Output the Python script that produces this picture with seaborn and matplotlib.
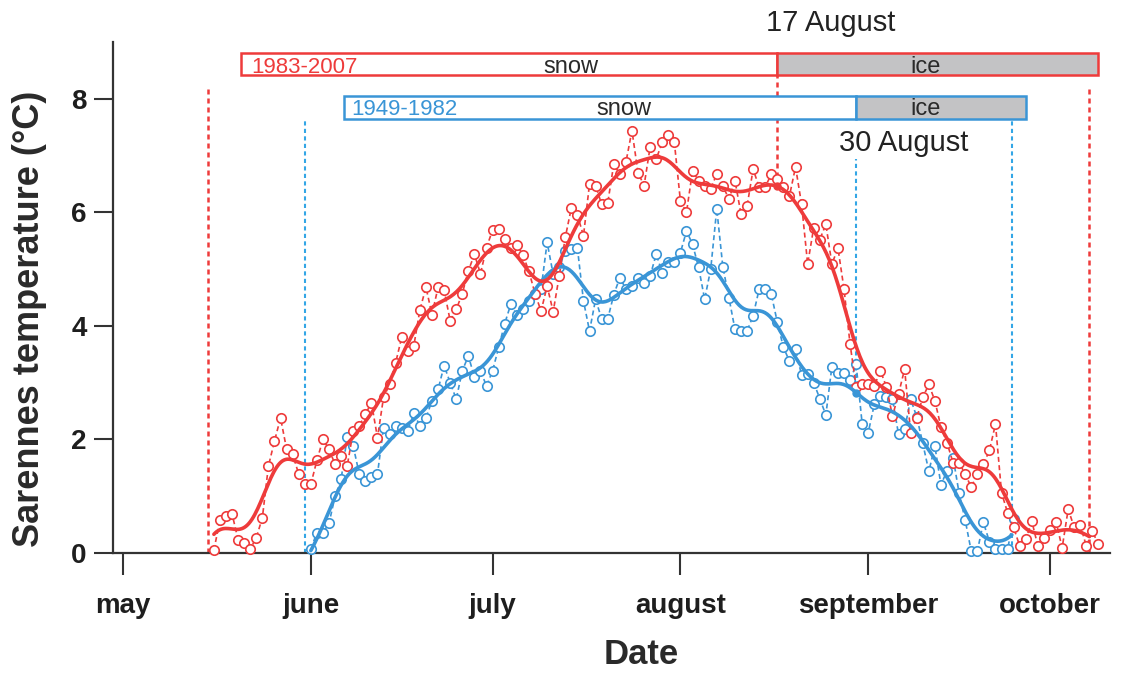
import numpy as np
import pandas as pd
import matplotlib
matplotlib.use("Agg")
import matplotlib.pyplot as plt
from matplotlib.patches import Rectangle
import seaborn as sns

# Daily lake water temperature (°C); day 0 = 1 May
recent_label = "1983-2007"
recent_start = 15
recent_temp = [
    0.05, 0.58, 0.65, 0.69, 0.23, 0.18, 0.07, 0.27, 0.62, 1.53,
    1.97, 2.38, 1.83, 1.74, 1.39, 1.21, 1.21, 1.63, 2.00, 1.83,
    1.56, 1.71, 1.53, 2.15, 2.24, 2.44, 2.65, 2.03, 2.74, 2.97,
    3.35, 3.80, 3.56, 3.65, 4.28, 4.68, 4.20, 4.68, 4.63, 4.09,
    4.29, 4.57, 4.97, 5.26, 4.92, 5.38, 5.69, 5.70, 5.53, 5.37,
    5.43, 5.25, 4.96, 4.57, 4.26, 4.70, 4.25, 4.88, 5.56, 6.08,
    5.95, 5.59, 6.50, 6.47, 6.14, 6.16, 6.85, 6.67, 6.88, 7.44,
    6.70, 6.47, 7.15, 6.94, 7.23, 7.37, 7.23, 6.20, 6.00, 6.73,
    6.56, 6.47, 6.41, 6.68, 6.47, 6.23, 6.56, 5.97, 6.11, 6.76,
    6.44, 6.45, 6.67, 6.58, 6.44, 6.29, 6.80, 6.14, 5.09, 5.73,
    5.52, 5.79, 5.09, 5.37, 4.65, 3.68, 2.93, 2.97, 2.97, 2.94,
    3.21, 2.93, 2.41, 2.80, 3.24, 2.12, 2.38, 2.74, 2.97, 2.68,
    2.22, 1.94, 1.59, 1.59, 1.39, 1.16, 1.39, 1.56, 1.81, 2.27,
    1.06, 0.71, 0.45, 0.12, 0.24, 0.56, 0.12, 0.26, 0.40, 0.55,
    0.09, 0.77, 0.45, 0.49, 0.12, 0.38, 0.15,
]

early_label = "1949-1982"
early_start = 31
early_temp = [
    0.07, 0.36, 0.36, 0.52, 1.00, 1.30, 2.04, 1.88, 1.39, 1.27,
    1.33, 1.39, 2.21, 2.09, 2.24, 2.21, 2.15, 2.46, 2.24, 2.38,
    2.68, 2.88, 3.30, 3.00, 2.71, 3.21, 3.47, 3.10, 3.21, 2.94,
    3.21, 3.62, 4.04, 4.38, 4.20, 4.29, 4.43, 4.56, 4.65, 5.47,
    4.91, 5.03, 5.32, 5.35, 5.37, 4.44, 3.91, 4.47, 4.12, 4.12,
    4.55, 4.85, 4.65, 4.70, 4.85, 4.75, 4.88, 5.26, 4.94, 5.12,
    5.12, 5.29, 5.67, 5.44, 5.03, 4.47, 5.00, 6.06, 5.04, 4.50,
    3.94, 3.91, 3.91, 4.18, 4.65, 4.65, 4.56, 4.06, 3.62, 3.38,
    3.59, 3.13, 3.16, 3.00, 2.72, 2.43, 3.28, 3.17, 3.17, 3.04,
    3.32, 2.27, 2.12, 2.62, 2.77, 2.74, 2.71, 2.09, 2.18, 2.71,
    2.40, 1.93, 1.44, 1.88, 1.20, 1.45, 1.68, 1.05, 0.58, 0.03,
    0.03, 0.54, 0.20, 0.07, 0.07, 0.07, 0.60,
]

month_days = [0, 31, 61, 92, 123, 153]
month_labels = ["may", "june", "july", "august", "september", "october"]
temp_ticks = [0, 2, 4, 6, 8]

# Cover periods: snow start, ice start, cover end (days since 1 May)
recent_cover = [19.5, 108, 161]
early_cover = [36.5, 121, 149]
recent_ice_label = "17 August"
early_ice_label = "30 August"
# Open-water limits of each period
recent_limits = [14, 159.5]
early_limits = [30, 146.7]

RED = "#EE3B3B"
BLUE = "#3A95D6"
BLUE_V = "#33A6E6"
ICE = "#C3C3C5"
INK = "#1E1E1E"

sns.set_theme(style="white")
plt.rcParams["font.family"] = ["Liberation Sans", "DejaVu Sans"]


def local_linear(days, temps, grid, bw=2.5):
    """Gaussian-weighted local linear smoother."""
    days = np.asarray(days, float)
    temps = np.asarray(temps, float)
    out = []
    for g in grid:
        w = np.sqrt(np.exp(-0.5 * ((days - g) / bw) ** 2))
        X = np.column_stack([np.ones_like(days), days - g]) * w[:, None]
        beta = np.linalg.lstsq(X, temps * w, rcond=None)[0]
        out.append(beta[0])
    return np.clip(np.array(out), 0, None)


def series_frame(start, temps, label):
    return pd.DataFrame({"day": start + np.arange(len(temps)),
                         "temp": temps, "period": label})


recent = series_frame(recent_start, recent_temp, recent_label)
early = series_frame(early_start, early_temp, early_label)

fig = plt.figure(figsize=(11.35, 6.76), dpi=100)
ax = fig.add_axes([113 / 1135, 123 / 676, 997 / 1135, 511 / 676])

# raw daily values
for df, col in [(early, BLUE), (recent, RED)]:
    sns.lineplot(data=df, x="day", y="temp", ax=ax, color=col,
                 linestyle=(0, (3, 2)), linewidth=1.2, marker="o",
                 markersize=6.8, markerfacecolor="white",
                 markeredgecolor=col, markeredgewidth=1.2,
                 zorder=3, clip_on=False)

# smoothed curves over each open-water season
smooth = {}
for df, col, key, lim in [(early, BLUE, "early", early_limits),
                          (recent, RED, "recent", recent_limits)]:
    lo = max(df["day"].min(), lim[0])
    hi = min(df["day"].max(), lim[1])
    grid = np.linspace(lo, hi, 600)
    sm = local_linear(df["day"], df["temp"], grid)
    smooth[key] = (grid, sm)
    sns.lineplot(x=grid, y=sm, ax=ax, color=col, linewidth=2.6, zorder=4)

dash = (0, (2, 1.6))
# open-water limits
for d in recent_limits:
    ax.plot([d, d], [0, 8.25], color=RED, lw=1.8, ls=dash, zorder=2)
for d in early_limits:
    ax.plot([d, d], [0, 7.65], color=BLUE_V, lw=1.5, ls=dash, zorder=2)

# ice onset markers
g, s = smooth["recent"]
v_r = np.interp(recent_cover[1], g, s)
ax.plot([recent_cover[1]] * 2, [v_r, 8.42], color=RED, lw=1.8, ls=dash, zorder=2)
ax.plot(recent_cover[1], v_r, "o", color=RED, ms=5, zorder=5)
g, s = smooth["early"]
v_b = np.interp(early_cover[1], g, s)
ax.plot([early_cover[1]] * 2, [v_b, 6.94], color=BLUE_V, lw=1.5, ls=dash, zorder=2)
ax.plot(early_cover[1], v_b, "o", color=BLUE, ms=5, zorder=5)

# cover bars
for cover, col, y0, h in [(recent_cover, RED, 8.41, 0.39),
                          (early_cover, BLUE, 7.65, 0.40)]:
    a, b, c = cover
    ax.add_patch(Rectangle((a, y0), b - a, h, facecolor="white",
                           edgecolor=col, lw=1.8, zorder=6, clip_on=False))
    ax.add_patch(Rectangle((b, y0), c - b, h, facecolor=ICE,
                           edgecolor=col, lw=1.8, zorder=6, clip_on=False))

tk = dict(fontsize=17, color="#2A2A2A", ha="center", va="baseline", zorder=7)
ax.text(recent_cover[0] + 1.7, 8.46, recent_label, fontsize=16, color=RED,
        ha="left", va="baseline", zorder=7)
ax.text(73.9, 8.46, "snow", **tk)
ax.text(132.4, 8.46, "ice", **tk)
ax.text(early_cover[0] + 1.2, 7.72, early_label, fontsize=16, color=BLUE,
        ha="left", va="baseline", zorder=7)
ax.text(82.6, 7.72, "snow", **tk)
ax.text(132.4, 7.72, "ice", **tk)
ax.text(116.8, 9.2, recent_ice_label, fontsize=21, color="#222222",
        ha="center", va="baseline")
ax.text(128.9, 7.08, early_ice_label, fontsize=21, color="#222222",
        ha="center", va="baseline")

ax.set_xlim(-1.65, 162.9)
ax.set_ylim(0, 9)
ax.set_xticks(month_days)
ax.set_xticklabels(month_labels, fontsize=20, fontweight="bold", color=INK)
ax.set_yticks(temp_ticks)
ax.set_yticklabels([str(t) for t in temp_ticks], fontsize=20,
                   fontweight="bold", color=INK)
ax.tick_params(axis="x", direction="out", length=16, width=1.5,
               color="#333333", pad=13, bottom=True)
ax.tick_params(axis="y", direction="out", length=14, width=1.5,
               color="#333333", pad=5, left=True)
for side in ["top", "right"]:
    ax.spines[side].set_visible(False)
for side in ["left", "bottom"]:
    ax.spines[side].set_color("#333333")
    ax.spines[side].set_linewidth(1.6)

ax.set_xlabel("Date", fontsize=25, fontweight="bold", color="#2A2A2A")
ax.set_ylabel("Sarennes temperature (°C)", fontsize=26, fontweight="bold",
              color="#2A2A2A")
ax.xaxis.set_label_coords(0.53, -0.166)
ax.yaxis.set_label_coords(-0.066, 0.458)

fig.savefig("out.png", dpi=100)
